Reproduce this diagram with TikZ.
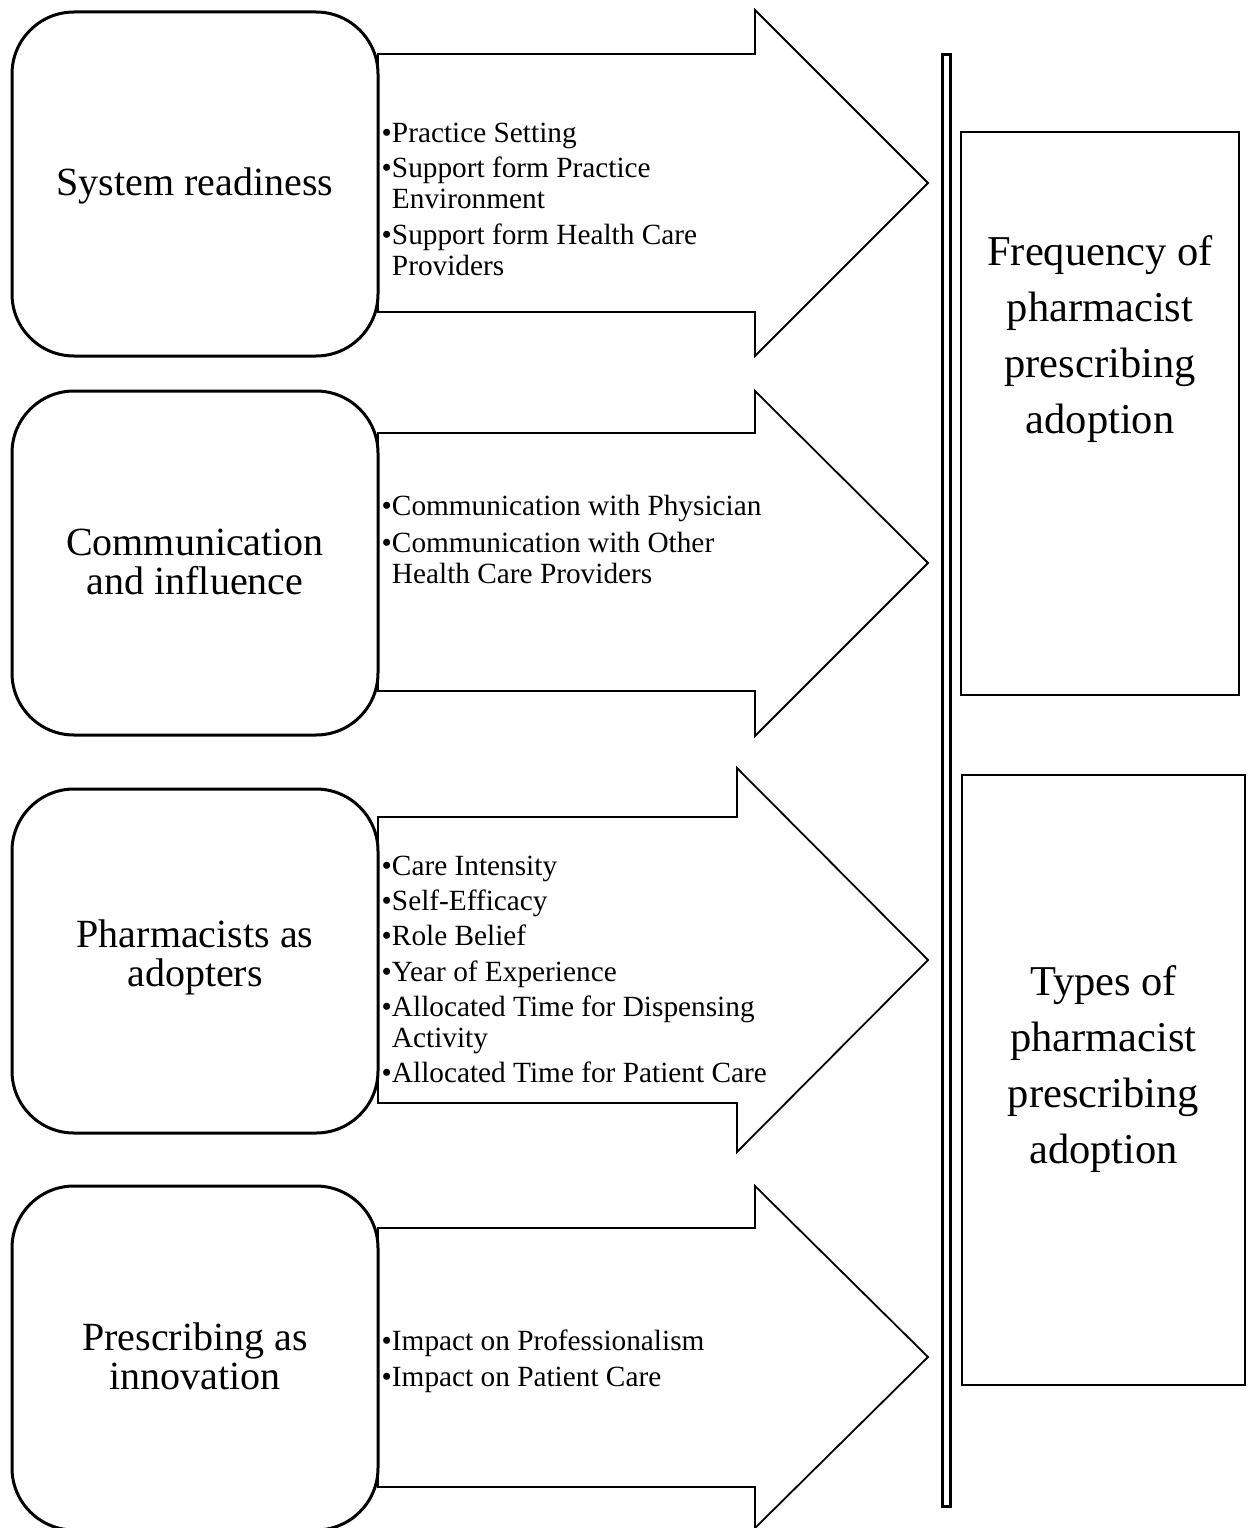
\documentclass[tikz,border=0pt]{standalone}
\usepackage{fontspec}
\setmainfont{Liberation Serif}
\begin{document}
\begin{tikzpicture}[x=1pt,y=-1pt,
  factor/.style={draw, line width=3, rounded corners=62, fill=white,
    minimum width=366, minimum height=344, inner sep=0},
  fatarrow/.style={draw, line width=1.8, line join=miter, fill=white},
  outcome/.style={draw, line width=1.6, inner sep=0},
  bigtext/.style={align=center, inner sep=0, font=\fontsize{40}{39}\selectfont},
  outtext/.style={align=center, inner sep=0, font=\fontsize{42.5}{56}\selectfont},
  item/.style={anchor=base west, align=left, inner sep=0,
    font=\fontsize{29.3}{30.5}\selectfont}]
\useasboundingbox (0,0) rectangle (1249,1528);

% block arrows carrying the factor lists
\path[fatarrow] (378,54) -- (755,54) -- (755,10) -- (928,183) -- (755,356)
  -- (755,312) -- (378,312) -- cycle;
\path[fatarrow] (378,433) -- (755,433) -- (755,391) -- (928,563) -- (755,736)
  -- (755,691) -- (378,691) -- cycle;
\path[fatarrow] (378,817) -- (737,817) -- (737,768) -- (928,960) -- (737,1152)
  -- (737,1103) -- (378,1103) -- cycle;
\path[fatarrow] (378,1228) -- (755,1228) -- (755,1186) -- (928,1357) -- (755,1528)
  -- (755,1487) -- (378,1487) -- cycle;

% factor boxes
\node[factor] (sys) at (195,184) {};
\node[factor] (comm) at (195,563) {};
\node[factor] (adopt) at (195,961) {};
\node[factor] (innov) at (195,1358) {};

% multi-line nodes are anchored on the baseline of their last line
\node[bigtext, anchor=base] (sysT) at (195,195) {System readiness};
\node[bigtext, anchor=base] (commT) at (195,594) {Communication\\and influence};
\node[bigtext, anchor=base] (adoptT) at (195,986) {Pharmacists as\\adopters};
\node[bigtext, anchor=base] (innovT) at (195,1389) {Prescribing as\\innovation};

% factor lists
\node[item] (s1) at (381.5,142) {•Practice Setting};
\node[item] (s2) at (381.5,208) {•Support form Practice\\\phantom{•}Environment};
\node[item] (s3) at (381.5,275) {•Support form Health Care\\\phantom{•}Providers};

\node[item] (c1) at (381.5,515) {•Communication with Physician};
\node[item] (c2) at (381.5,583) {•Communication with Other\\\phantom{•}Health Care Providers};

\node[item] (a1) at (381.5,875) {•Care Intensity};
\node[item] (a2) at (381.5,910) {•Self-Efficacy};
\node[item] (a3) at (381.5,945) {•Role Belief};
\node[item] (a4) at (381.5,981) {•Year of Experience};
\node[item] (a5) at (381.5,1047) {•Allocated Time for Dispensing\\\phantom{•}Activity};
\node[item] (a6) at (381.5,1082) {•Allocated Time for Patient Care};

\node[item] (i1) at (381.5,1350) {•Impact on Professionalism};
\node[item] (i2) at (381.5,1386) {•Impact on Patient Care};

% double-ruled bar
\node[draw, line width=3, inner sep=0, minimum width=8, minimum height=1452]
  (bar) at (946.5,780.5) {};

% outcome boxes
\node[outcome, minimum width=278, minimum height=563] (freq) at (1100,413.5) {};
\node[outcome, minimum width=283, minimum height=610] (types) at (1103.5,1080) {};
\node[outtext, anchor=base] (freqT) at (1100,433)
  {Frequency of\\pharmacist\\prescribing\\adoption};
\node[outtext, anchor=base] (typesT) at (1103.5,1163)
  {Types of\\pharmacist\\prescribing\\adoption};
\end{tikzpicture}
\end{document}
